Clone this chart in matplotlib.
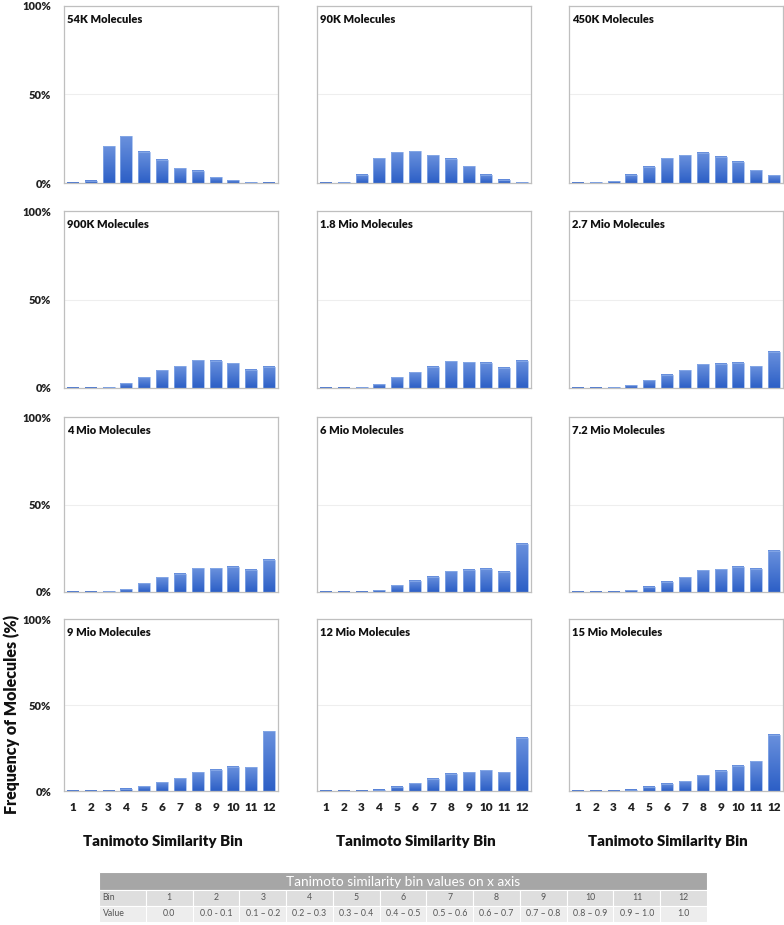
import numpy as np
import matplotlib
matplotlib.use("Agg")
import matplotlib.pyplot as plt
from matplotlib.patches import Rectangle
from matplotlib.colors import LinearSegmentedColormap

plt.rcParams['font.family'] = ['Lato', 'DejaVu Sans']

# --- data (percent of molecules per Tanimoto bin) ---
bins = list(range(1, 13))
titles = ["54K Molecules", "90K Molecules", "450K Molecules",
          "900K Molecules", "1.8 Mio Molecules", "2.7 Mio Molecules",
          "4 Mio Molecules", "6 Mio Molecules", "7.2 Mio Molecules",
          "9 Mio Molecules", "12 Mio Molecules", "15 Mio Molecules"]

freq_54k = [0.1, 1.3, 20.8, 26.5, 17.6, 13.1, 8.3, 6.8, 3.2, 1.5, 0.3, 0.1]
freq_90k = [0.1, 0.3, 4.7, 13.9, 17.5, 17.9, 15.6, 13.7, 9.4, 4.7, 1.9, 0.5]
freq_450k = [0.1, 0.3, 1.0, 4.7, 9.2, 13.9, 15.8, 17.0, 14.9, 11.9, 7.2, 4.5]
freq_900k = [0.1, 0.2, 0.5, 2.7, 6.1, 10.0, 12.4, 15.8, 15.3, 14.0, 10.3, 12.0]
freq_1_8m = [0.1, 0.2, 0.4, 2.2, 6.0, 9.0, 12.0, 15.0, 14.6, 14.3, 11.3, 15.5]
freq_2_7m = [0.1, 0.1, 0.3, 1.5, 4.5, 7.5, 10.0, 13.5, 13.7, 14.2, 12.2, 20.5]
freq_4m = [0.1, 0.2, 0.3, 1.5, 5.0, 8.5, 10.5, 13.5, 13.5, 14.5, 12.8, 18.5]
freq_6m = [0.1, 0.1, 0.1, 1.0, 3.8, 6.4, 8.7, 11.9, 12.6, 13.4, 11.7, 27.7]
freq_7_2m = [0.1, 0.1, 0.2, 1.0, 3.0, 6.0, 8.5, 12.5, 13.0, 14.5, 13.2, 23.5]
freq_9m = [0.2, 0.2, 0.2, 1.2, 2.9, 5.0, 7.3, 11.0, 12.5, 14.0, 13.7, 34.6]
freq_12m = [0.1, 0.1, 0.1, 0.6, 2.5, 4.5, 7.0, 10.0, 11.0, 12.0, 11.0, 31.0]
freq_15m = [0.2, 0.2, 0.2, 0.7, 2.4, 4.3, 5.8, 9.1, 11.8, 14.7, 17.2, 32.8]

all_freqs = [freq_54k, freq_90k, freq_450k, freq_900k, freq_1_8m, freq_2_7m,
             freq_4m, freq_6m, freq_7_2m, freq_9m, freq_12m, freq_15m]

table_title = "Tanimoto similarity bin values on x axis"
table_bins = ["1", "2", "3", "4", "5", "6", "7", "8", "9", "10", "11", "12"]
table_values = ["0.0", "0.0 - 0.1", "0.1 \u2013 0.2", "0.2 \u2013 0.3", "0.3 \u2013 0.4",
                "0.4 \u2013 0.5", "0.5 \u2013 0.6", "0.6 \u2013 0.7", "0.7 \u2013 0.8",
                "0.8 \u2013 0.9", "0.9 \u2013 1.0", "1.0"]

# --- layout (pixels of a 784x925 figure) ---
W, H = 784, 925
col_left = [64, 317, 569]
col_width = 214
row_top = [6, 211, 417, 619]
row_bottom = [183, 388, 592, 791]

bar_cmap = LinearSegmentedColormap.from_list("bars", ["#2c5fc6", "#6a91dd"])
grad = np.linspace(0, 1, 64).reshape(-1, 1)

fig = plt.figure(figsize=(W / 100, H / 100), dpi=100)

for k, (title, vals) in enumerate(zip(titles, all_freqs)):
    r, c = divmod(k, 3)
    ax = fig.add_axes([col_left[c] / W, (H - row_bottom[r]) / H,
                       col_width / W, (row_bottom[r] - row_top[r]) / H])
    bars = ax.bar(bins, vals, width=0.67, facecolor="none",
                  edgecolor="#8fb0ea", linewidth=0.5, zorder=3)
    # Excel-like vertical gradient inside every bar
    for b in bars:
        x0, h = b.get_x(), b.get_height()
        ax.imshow(grad, extent=[x0, x0 + b.get_width(), 0, h], origin="lower",
                  cmap=bar_cmap, aspect="auto", zorder=2, interpolation="bilinear")
    ax.set_xlim(0.5, 12.5)
    ax.set_ylim(0, 100)
    ax.set_aspect("auto")
    ax.axhline(50, color="#eeeeee", lw=0.8, zorder=1)
    for s in ax.spines.values():
        s.set_color("#bfbfbf")
        s.set_linewidth(0.9)
    ax.text(0.012, 0.955, title, transform=ax.transAxes, ha="left", va="top",
            fontsize=8, fontweight="heavy", color="#111111")
    ax.tick_params(length=0)
    ax.set_yticks([0, 50, 100])
    if c == 0:
        ax.set_yticklabels(["0%", "50%", "100%"], fontsize=8,
                           fontweight="heavy", color="#222222")
        ax.tick_params(axis="y", pad=9)
    else:
        ax.set_yticklabels([])
    ax.set_xticks(bins)
    if r == 3:
        ax.set_xticklabels([str(b) for b in bins], fontsize=8.5,
                           fontweight="heavy", color="#222222")
        ax.tick_params(axis="x", pad=8)
        ax.set_xlabel("Tanimoto Similarity Bin", fontsize=10.8,
                      fontweight="heavy", color="#111111")
        ax.xaxis.set_label_coords(0.46, -0.255)
    else:
        ax.set_xticklabels([])

fig.text(12 / W, (H - 714) / H, "Frequency of Molecules (%)", rotation=90,
         ha="center", va="center", fontsize=11.5, fontweight="heavy", color="#111111")

# --- bin value table ---
tx0, tx1, ty0, ty1 = 99, 707, 872, 922
tax = fig.add_axes([tx0 / W, (H - ty1) / H, (tx1 - tx0) / W, (ty1 - ty0) / H])
tax.set_xlim(0, 13)
tax.set_ylim(50, 0)
tax.axis("off")
tax.add_patch(Rectangle((0, 0), 13, 18, facecolor="#a6a6a6", edgecolor="white", lw=0.8))
tax.text(6.5, 9.5, table_title, ha="center", va="center", fontsize=9.8, color="white")
rows = [("Bin", table_bins, 18, 16, "#dedede"), ("Value", table_values, 34, 16, "#ededed")]
for name, cells, y, h, fc in rows:
    for j in range(13):
        tax.add_patch(Rectangle((j, y), 1, h, facecolor=fc, edgecolor="white", lw=0.8))
    tax.text(0.08, y + h / 2, name, ha="left", va="center", fontsize=6.3, color="#555555")
    for j, txt in enumerate(cells):
        tax.text(j + 1.5, y + h / 2, txt, ha="center", va="center",
                 fontsize=6.3, color="#555555")

fig.savefig("out.png", dpi=100)
